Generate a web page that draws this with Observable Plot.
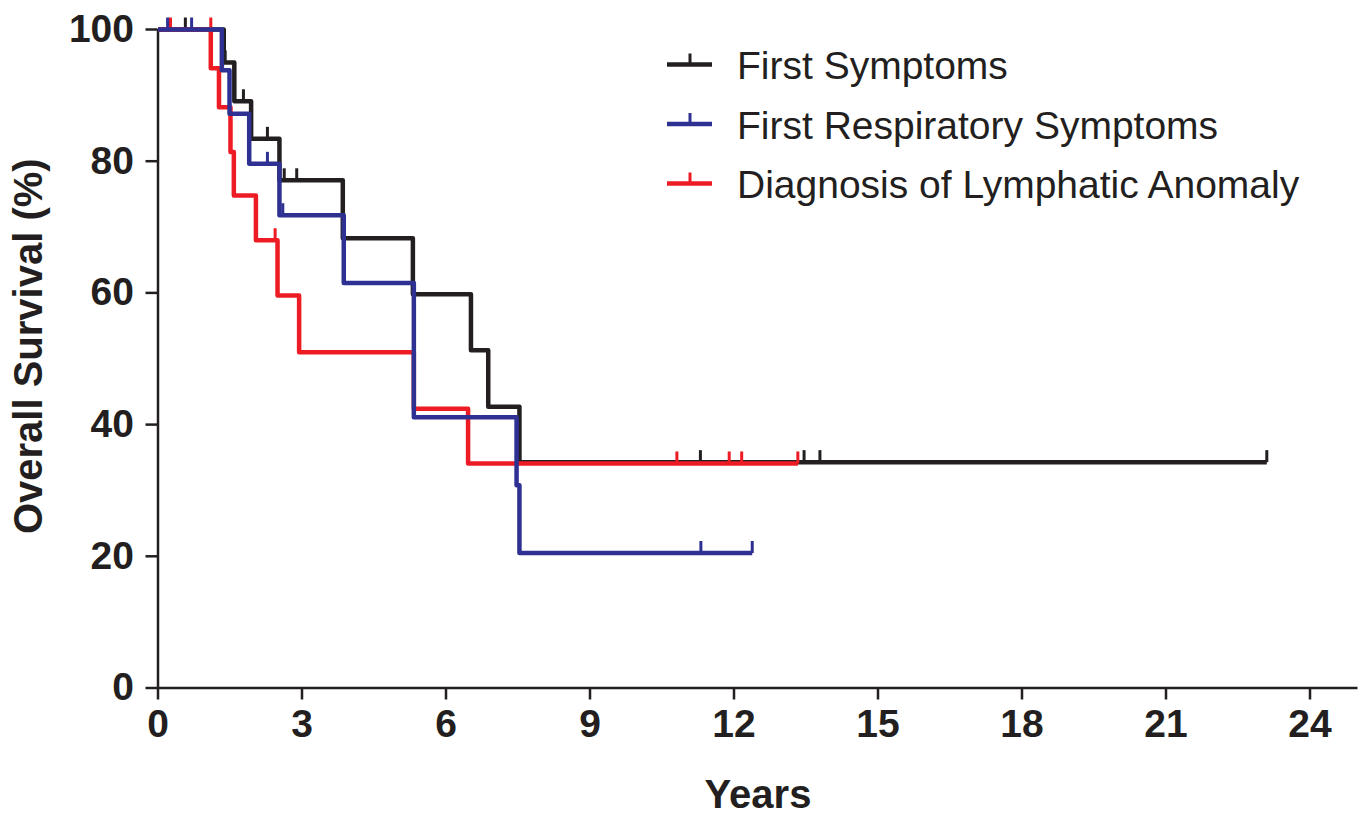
<!DOCTYPE html>
<html>
<head>
<meta charset="utf-8">
<script src="https://cdn.jsdelivr.net/npm/d3@7"></script>
<script src="https://cdn.jsdelivr.net/npm/@observablehq/plot@0.6"></script>
<style>
  html, body { margin: 0; padding: 0; background: #fff; }
  #wrap { position: relative; width: 1366px; height: 816px; overflow: hidden; }
  #legend { position: absolute; left: 0; top: 0; pointer-events: none; }
  text { font-family: "Liberation Sans", Arial, Helvetica, sans-serif; }
</style>
</head>
<body>
<div id="wrap"></div>
<script>
// ---------- data ----------
const seriesNames = ["First Symptoms", "First Respiratory Symptoms", "Diagnosis of Lymphatic Anomaly"];
const seriesColors = ["#231f20", "#2e3192", "#ed1c24"];

// First Symptoms (black): step times (years) and survival (%)
const firstSymptomsTime = [0, 1.37, 1.59, 1.94, 2.53, 3.85, 5.31, 6.52, 6.88, 7.53, 23.1];
const firstSymptomsSurv = [100, 95.0, 89.1, 83.4, 77.1, 68.3, 59.8, 51.3, 42.7, 34.3, 34.3];
const firstSymptomsCensorTime = [0.57, 1.40, 1.78, 2.28, 2.63, 2.89, 11.3, 13.46, 13.79, 23.1];
const firstSymptomsCensorSurv = [100, 95.0, 89.1, 83.4, 77.1, 77.1, 34.3, 34.3, 34.3, 34.3];

// First Respiratory Symptoms (blue)
const firstRespTime = [0, 1.33, 1.49, 1.90, 2.53, 3.87, 5.33, 7.47, 7.53, 12.38];
const firstRespSurv = [100, 93.8, 87.2, 79.6, 71.8, 61.5, 41.1, 30.8, 20.5, 20.5];
const firstRespCensorTime = [0.20, 0.70, 2.28, 2.60, 11.31, 12.38];
const firstRespCensorSurv = [100, 100, 79.6, 71.8, 20.5, 20.5];

// Diagnosis of Lymphatic Anomaly (red)
const diagnosisTime = [0, 1.10, 1.27, 1.51, 1.58, 2.04, 2.49, 2.94, 5.33, 6.46, 13.33];
const diagnosisSurv = [100, 94.1, 88.2, 81.4, 74.8, 68.0, 59.6, 51.0, 42.4, 34.1, 34.1];
const diagnosisCensorTime = [0.26, 1.10, 2.44, 10.81, 11.90, 12.16, 13.33];
const diagnosisCensorSurv = [100, 100, 68.0, 34.1, 34.1, 34.1, 34.1];

const xTicks = [0, 3, 6, 9, 12, 15, 18, 21, 24];
const yTicks = [0, 20, 40, 60, 80, 100];
const xTitle = "Years";
const yTitle = "Overall Survival (%)";

// ---------- build tables ----------
function rows(name, t, s) { return t.map((d, i) => ({series: name, t: d, s: s[i]})); }
// drawing order: black, red, blue (blue on top)
const curveSets = [
  [rows(seriesNames[0], firstSymptomsTime, firstSymptomsSurv), rows(seriesNames[0], firstSymptomsCensorTime, firstSymptomsCensorSurv)],
  [rows(seriesNames[2], diagnosisTime, diagnosisSurv), rows(seriesNames[2], diagnosisCensorTime, diagnosisCensorSurv)],
  [rows(seriesNames[1], firstRespTime, firstRespSurv), rows(seriesNames[1], firstRespCensorTime, firstRespCensorSurv)]
];

const censorSymbol = {
  draw(context, size) { context.moveTo(0, 0); context.lineTo(0, -12); }
};

const ink = "#231f20";
const font = "Liberation Sans, Arial, Helvetica, sans-serif";

const marks = [];
for (const [steps, cens] of curveSets) {
  marks.push(Plot.line(steps, {x: "t", y: "s", stroke: "series", curve: "step-after", strokeWidth: 4.5, strokeLinejoin: "round", strokeLinecap: "butt"}));
  marks.push(Plot.dot(cens, {x: "t", y: "s", stroke: "series", symbol: censorSymbol, fill: "none", strokeWidth: 3, r: 3}));
}

const chart = Plot.plot({
  width: 1366,
  height: 816,
  marginLeft: 157.5,
  marginRight: 8.5,
  marginTop: 29,
  marginBottom: 128.5,
  style: {fontFamily: font, background: "#fff", color: ink, overflow: "visible"},
  x: {domain: [0, 25]},
  y: {domain: [0, 100]},
  color: {domain: seriesNames, range: seriesColors},
  marks: [
    Plot.axisX({ticks: xTicks, tickSize: 12, tickPadding: 9, tickFormat: d => String(d), label: null, stroke: ink, strokeWidth: 2.5, fill: ink, fontSize: 39, fontWeight: "bold"}),
    Plot.axisY({ticks: yTicks, tickSize: 12, tickPadding: 12, tickFormat: d => String(d), label: null, stroke: ink, strokeWidth: 2.5, fill: ink, fontSize: 39, fontWeight: "bold"}),
    Plot.ruleY([0], {stroke: ink, strokeWidth: 2.5}),
    Plot.ruleX([0], {stroke: ink, strokeWidth: 2.5}),
    ...marks,
    Plot.text([xTitle], {frameAnchor: "bottom", lineAnchor: "middle", textAnchor: "middle", dy: 107.5, text: d => d, fontSize: 40, fontWeight: "bold", fill: ink}),
    Plot.text([yTitle], {frameAnchor: "left", lineAnchor: "middle", textAnchor: "middle", dx: -129, dy: -12.5, rotate: -90, text: d => d, fontSize: 40, fontWeight: "bold", fill: ink})
  ]
});
document.getElementById("wrap").appendChild(chart);

// ---------- legend (overlay inside the plot area, as in the reference) ----------
const legendOrder = [0, 1, 2];
const ns = "http://www.w3.org/2000/svg";
const lg = document.createElementNS(ns, "svg");
lg.setAttribute("id", "legend");
lg.setAttribute("width", 1366);
lg.setAttribute("height", 816);
legendOrder.forEach((k, i) => {
  const cy = 64.5 + i * 59.5;
  const g = document.createElementNS(ns, "g");
  const line = document.createElementNS(ns, "line");
  line.setAttribute("x1", 667); line.setAttribute("x2", 712);
  line.setAttribute("y1", cy); line.setAttribute("y2", cy);
  line.setAttribute("stroke", seriesColors[k]); line.setAttribute("stroke-width", 4.5);
  const tick = document.createElementNS(ns, "line");
  tick.setAttribute("x1", 690); tick.setAttribute("x2", 690);
  tick.setAttribute("y1", cy); tick.setAttribute("y2", cy - 11);
  tick.setAttribute("stroke", seriesColors[k]); tick.setAttribute("stroke-width", 3);
  const t = document.createElementNS(ns, "text");
  t.setAttribute("x", 737); t.setAttribute("y", cy + 14.5);
  t.setAttribute("font-size", 39); t.setAttribute("fill", ink);
  t.setAttribute("font-family", font);
  t.textContent = seriesNames[k];
  g.appendChild(line); g.appendChild(tick); g.appendChild(t);
  lg.appendChild(g);
});
document.getElementById("wrap").appendChild(lg);
</script>
</body>
</html>
